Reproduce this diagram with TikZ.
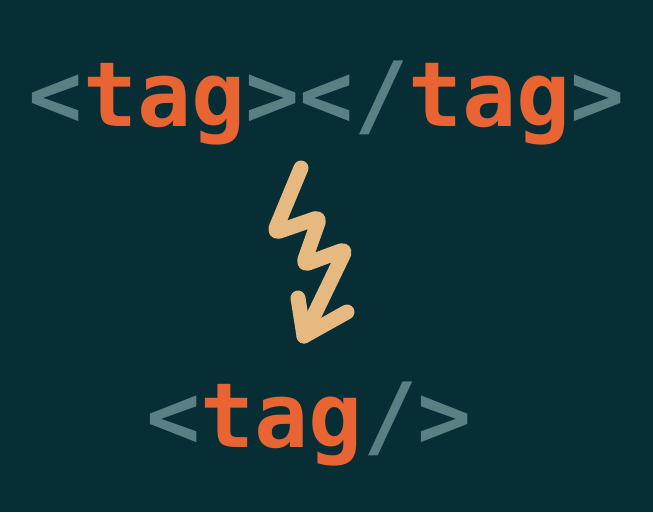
\documentclass[tikz,border=0pt]{standalone}
\usepackage{fontspec}
\setmonofont{DejaVu Sans Mono}
\definecolor{bg}{HTML}{072D35}
\definecolor{bracket}{HTML}{5B8084}
\definecolor{tagname}{HTML}{E86433}
\definecolor{squiggle}{HTML}{E6B981}
\tikzset{
  code/.style={inner sep=0pt, anchor=base, font=\ttfamily\bfseries\fontsize{90}{90}\selectfont},
  zigzag/.style={draw=squiggle, line width=15pt, line cap=round, line join=round}
}
\newcommand{\br}[1]{\textcolor{bracket}{#1}}
\newcommand{\nm}[1]{\textcolor{tagname}{#1}}
\begin{document}
\begin{tikzpicture}[x=1pt,y=-1pt]
  \fill[bg] (0,0) rectangle (653,512);
  \useasboundingbox (0,0) rectangle (653,512);
  % paired open and close tags
  \node[code] (pair) at (327,126) {\br{<}\nm{tag}\br{></}\nm{tag}\br{>}};
  % self-closing tag
  \node[code] (single) at (309,447) {\br{<}\nm{tag}\br{/>}};
  % hand-drawn zigzag arrow between them
  \coordinate (z0) at (301,168);
  \coordinate (z1) at (274,233);
  \coordinate (z2) at (320,217);
  \coordinate (z3) at (303,265);
  \coordinate (z4) at (346,249);
  \coordinate (tip) at (304,336);
  \coordinate (barbL) at (298,298);
  \coordinate (barbR) at (347,312);
  \draw[zigzag, rounded corners=6pt] (z0) -- (z1) -- (z2) -- (z3) -- (z4) -- (tip);
  \draw[zigzag] (barbL) -- (tip) -- (barbR);
\end{tikzpicture}
\end{document}
